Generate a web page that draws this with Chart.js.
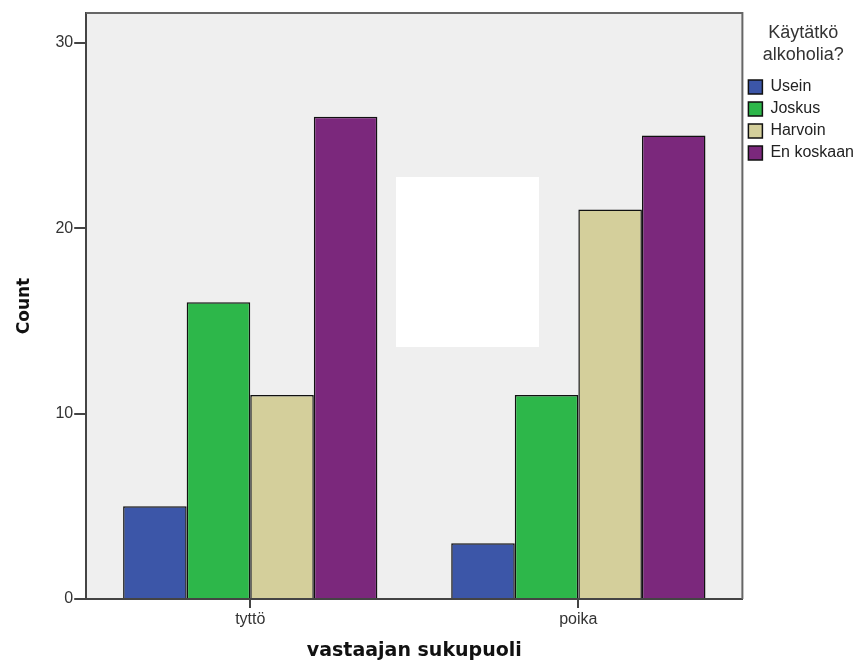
<!DOCTYPE html>
<html>
<head>
<meta charset="utf-8">
<script src="https://cdn.jsdelivr.net/npm/chart.js@4/dist/chart.umd.min.js"></script>
<style>
  html, body { margin: 0; padding: 0; background: #fff; }
</style>
</head>
<body>
<canvas id="canvas"></canvas>
<script>
// data
var categories = ['tyttö', 'poika'];
var seriesNames = ['Usein', 'Joskus', 'Harvoin', 'En koskaan'];
var usein = [5, 3];
var joskus = [16, 11];
var harvoin = [11, 21];
var enKoskaan = [26, 25];
var yTicks = [0, 10, 20, 30];
var yMax = 31.6;

var barColors = ['#3c56a8', '#2db74a', '#d4cf9b', '#7b287c'];
var seriesValues = [usein, joskus, harvoin, enKoskaan];

var ctx = document.getElementById('canvas');
ctx.width = 864;
ctx.height = 664;

// gray plot background + frame, and the blank patch of the original picture
var plotFrame = {
  id: 'plotFrame',
  beforeDraw: function(chart) {
    var a = chart.chartArea, c = chart.ctx;
    c.save();
    c.fillStyle = '#efefef';
    c.fillRect(a.left, a.top, a.right - a.left, a.bottom - a.top);
    c.restore();
  },
  afterDatasetsDraw: function(chart) {
    var a = chart.chartArea, c = chart.ctx;
    c.save();
    c.strokeStyle = '#666';
    c.lineWidth = 2;
    c.beginPath();
    c.moveTo(a.left, a.top);
    c.lineTo(a.right, a.top);
    c.lineTo(a.right, a.bottom);
    c.stroke();
    c.restore();
  },
  afterDraw: function(chart) {
    var c = chart.ctx;
    c.save();
    c.fillStyle = '#ffffff';
    c.fillRect(396, 177, 143, 170);
    c.restore();
  }
};

var chart = new Chart(ctx, {
  type: 'bar',
  data: {
    labels: categories,
    datasets: seriesNames.map(function(name, i) {
      return {
        label: name,
        data: seriesValues[i],
        backgroundColor: barColors[i],
        borderColor: '#111',
        borderWidth: 1.5,
        barPercentage: 1,
        categoryPercentage: 0.775
      };
    })
  },
  options: {
    responsive: false,
    animation: { duration: 0 },
    layout: { padding: { top: 13, right: 0, bottom: 0, left: 14 } },
    plugins: {
      tooltip: { enabled: false },
      legend: {
        position: 'right',
        align: 'start',
        title: {
          display: true,
          text: ['Käytätkö', 'alkoholia?'],
          color: '#333',
          font: { family: 'Liberation Sans', size: 18, lineHeight: 1.22 },
          padding: { top: 11, bottom: 27 }
        },
        labels: {
          boxWidth: 14,
          boxHeight: 14,
          padding: 6,
          color: '#222',
          font: { family: 'Liberation Sans', size: 16 }
        }
      }
    },
    scales: {
      x: {
        grid: {
          offset: false,
          drawOnChartArea: false,
          tickLength: 9,
          color: '#444',
          lineWidth: 2
        },
        border: { color: '#444', width: 2 },
        ticks: {
          color: '#333',
          padding: 2,
          font: { family: 'Liberation Sans', size: 16 }
        },
        title: {
          display: true,
          text: 'vastaajan sukupuoli',
          color: '#111',
          font: { family: 'DejaVu Sans', size: 19, weight: 'bold' },
          padding: { top: 8, bottom: 2 }
        }
      },
      y: {
        min: 0,
        max: yMax,
        afterBuildTicks: function(scale) {
          scale.ticks = yTicks.map(function(v) { return { value: v }; });
        },
        grid: {
          drawOnChartArea: false,
          tickLength: 12,
          color: '#444',
          lineWidth: 2
        },
        border: { color: '#444', width: 2 },
        ticks: {
          color: '#333',
          padding: 1,
          font: { family: 'Liberation Sans', size: 16 }
        },
        title: {
          display: true,
          text: 'Count',
          color: '#111',
          font: { family: 'DejaVu Sans', size: 17, weight: 'bold' },
          padding: { top: 0, bottom: 20 }
        }
      }
    }
  },
  plugins: [plotFrame]
});
</script>
</body>
</html>
